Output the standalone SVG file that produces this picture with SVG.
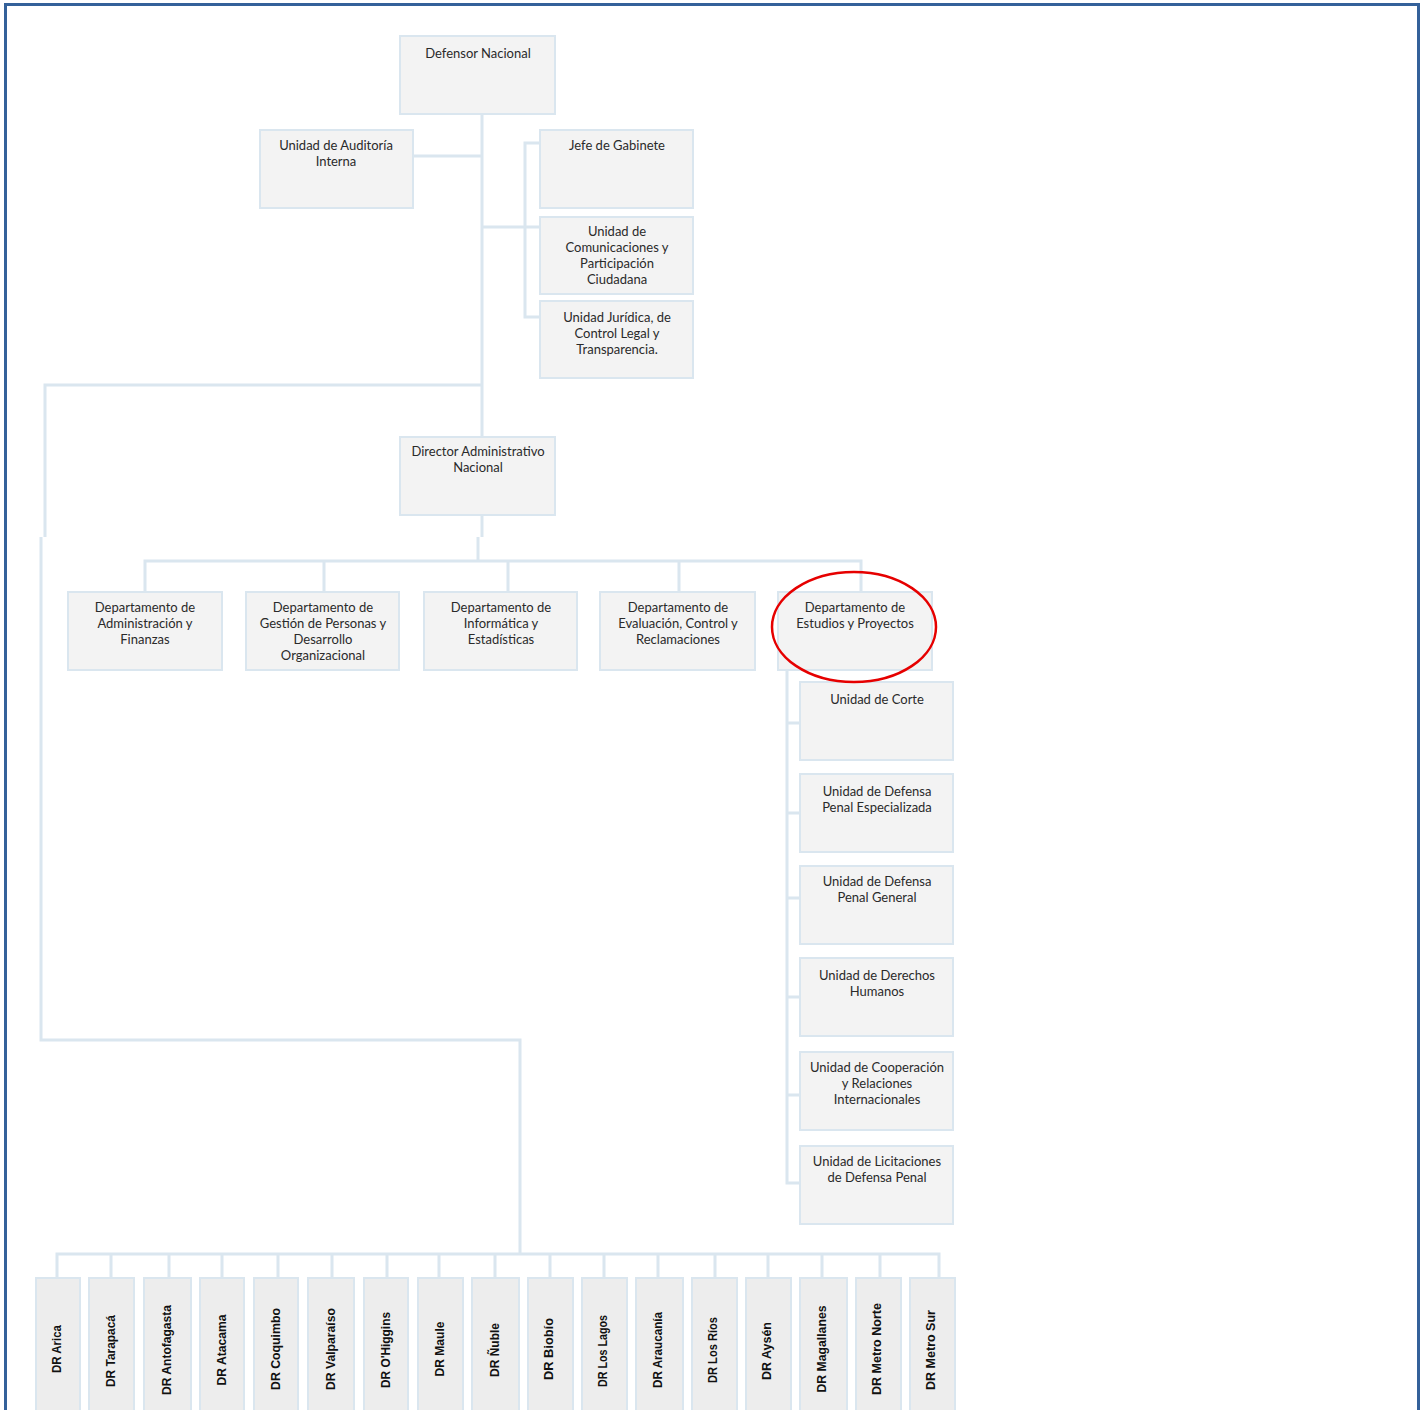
<svg xmlns="http://www.w3.org/2000/svg" width="1420" height="1410" viewBox="0 0 1420 1410">
<style>
.n{fill:#F3F3F3;stroke:#DAE6EF;stroke-width:2}
.d{fill:#EDEDED;stroke:#DAE6EF;stroke-width:2}
.c{fill:none;stroke:#DAE6EF;stroke-width:3}
.t{font-family:Lato,"Liberation Sans",sans-serif;font-size:13px;fill:#2a2a2a;text-anchor:middle;letter-spacing:0px}
.v{font-family:"Liberation Sans",Arial,sans-serif;font-size:13px;font-weight:bold;fill:#111;text-anchor:middle}
</style>
<rect x="0" y="0" width="1420" height="1410" fill="#fff"/>
<path d="M5.5,1412 V4.5 H1418.5 V1412" fill="none" stroke="#34619A" stroke-width="3"/>
<g id="connectors">
<path class="c" d="M482,114 V437"/>
<path class="c" d="M413,156 H482"/>
<path class="c" d="M482,227 H540"/>
<path class="c" d="M540,143 H525 V317 H540"/>
<path class="c" d="M482,385 H45 V537"/>
<path class="c" d="M41,537 V1040 H520 V1254"/>
<path class="c" d="M482,515 V537"/>
<path class="c" d="M478,537 V561"/>
<path class="c" d="M145,592 V561 H861 V592"/>
<path class="c" d="M324,561 V592 M508,561 V592 M679,561 V592"/>
<path class="c" d="M787,670 V1183 H800"/>
<path class="c" d="M787,723 H800 M787,813 H800 M787,898 H800 M787,997 H800 M787,1095 H800"/>
<path class="c" d="M57,1278 V1254 H939 V1278"/>
<path class="c" d="M111,1254 V1278 M169,1254 V1278 M222,1254 V1278 M278,1254 V1278 M332,1254 V1278 M387,1254 V1278 M439,1254 V1278 M495,1254 V1278 M550,1254 V1278 M604,1254 V1278 M658,1254 V1278 M715,1254 V1278 M768,1254 V1278 M822,1254 V1278 M880,1254 V1278"/>
</g>
<g id="defensor"><rect class="n" x="400" y="36" width="155" height="78"/><text class="t" x="478" y="58">Defensor Nacional</text></g>
<g id="auditoria"><rect class="n" x="260" y="130" width="153" height="78"/><text class="t" x="336" y="150">Unidad de Auditoría</text><text class="t" x="336" y="166">Interna</text></g>
<g id="gabinete"><rect class="n" x="540" y="130" width="153" height="78"/><text class="t" x="617" y="150">Jefe de Gabinete</text></g>
<g id="comunicaciones"><rect class="n" x="540" y="217" width="153" height="77"/><text class="t" x="617" y="236">Unidad de</text><text class="t" x="617" y="252">Comunicaciones y</text><text class="t" x="617" y="268">Participación</text><text class="t" x="617" y="284">Ciudadana</text></g>
<g id="juridica"><rect class="n" x="540" y="301" width="153" height="77"/><text class="t" x="617" y="322">Unidad Jurídica, de</text><text class="t" x="617" y="338">Control Legal y</text><text class="t" x="617" y="354">Transparencia.</text></g>
<g id="director"><rect class="n" x="400" y="437" width="155" height="78"/><text class="t" x="478" y="456">Director Administrativo</text><text class="t" x="478" y="472">Nacional</text></g>
<g id="dep-admin"><rect class="n" x="68" y="592" width="154" height="78"/><text class="t" x="145" y="612">Departamento de</text><text class="t" x="145" y="628">Administración y</text><text class="t" x="145" y="644">Finanzas</text></g>
<g id="dep-personas"><rect class="n" x="246" y="592" width="153" height="78"/><text class="t" x="323" y="612">Departamento de</text><text class="t" x="323" y="628">Gestión de Personas y</text><text class="t" x="323" y="644">Desarrollo</text><text class="t" x="323" y="660">Organizacional</text></g>
<g id="dep-informatica"><rect class="n" x="424" y="592" width="153" height="78"/><text class="t" x="501" y="612">Departamento de</text><text class="t" x="501" y="628">Informática y</text><text class="t" x="501" y="644">Estadísticas</text></g>
<g id="dep-evaluacion"><rect class="n" x="600" y="592" width="155" height="78"/><text class="t" x="678" y="612">Departamento de</text><text class="t" x="678" y="628">Evaluación, Control y</text><text class="t" x="678" y="644">Reclamaciones</text></g>
<g id="dep-estudios"><rect class="n" x="778" y="592" width="154" height="78"/><text class="t" x="855" y="612">Departamento de</text><text class="t" x="855" y="628">Estudios y Proyectos</text></g>
<g id="u-corte"><rect class="n" x="800" y="682" width="153" height="78"/><text class="t" x="877" y="704">Unidad de Corte</text></g>
<g id="u-especializada"><rect class="n" x="800" y="774" width="153" height="78"/><text class="t" x="877" y="796">Unidad de Defensa</text><text class="t" x="877" y="812">Penal Especializada</text></g>
<g id="u-general"><rect class="n" x="800" y="866" width="153" height="78"/><text class="t" x="877" y="886">Unidad de Defensa</text><text class="t" x="877" y="902">Penal General</text></g>
<g id="u-ddhh"><rect class="n" x="800" y="958" width="153" height="78"/><text class="t" x="877" y="980">Unidad de Derechos</text><text class="t" x="877" y="996">Humanos</text></g>
<g id="u-cooperacion"><rect class="n" x="800" y="1052" width="153" height="78"/><text class="t" x="877" y="1072">Unidad de Cooperación</text><text class="t" x="877" y="1088">y Relaciones</text><text class="t" x="877" y="1104">Internacionales</text></g>
<g id="u-licitaciones"><rect class="n" x="800" y="1146" width="153" height="78"/><text class="t" x="877" y="1166">Unidad de Licitaciones</text><text class="t" x="877" y="1182">de Defensa Penal</text></g>
<ellipse cx="854" cy="627" rx="82" ry="55" fill="none" stroke="#E60000" stroke-width="2.5"/>
<g id="dr-arica"><rect class="d" x="36" y="1278" width="44" height="140"/><text class="v" transform="translate(61,1349) rotate(-90)" textLength="48" lengthAdjust="spacingAndGlyphs">DR Arica</text></g>
<g id="dr-tarapaca"><rect class="d" x="89" y="1278" width="45" height="140"/><text class="v" transform="translate(115,1351) rotate(-90)" textLength="72" lengthAdjust="spacingAndGlyphs">DR Tarapacá</text></g>
<g id="dr-antofagasta"><rect class="d" x="144" y="1278" width="47" height="140"/><text class="v" transform="translate(171,1350) rotate(-90)" textLength="90" lengthAdjust="spacingAndGlyphs">DR Antofagasta</text></g>
<g id="dr-atacama"><rect class="d" x="200" y="1278" width="44" height="140"/><text class="v" transform="translate(226,1350) rotate(-90)" textLength="71" lengthAdjust="spacingAndGlyphs">DR Atacama</text></g>
<g id="dr-coquimbo"><rect class="d" x="254" y="1278" width="44" height="140"/><text class="v" transform="translate(280,1349) rotate(-90)" textLength="82" lengthAdjust="spacingAndGlyphs">DR Coquimbo</text></g>
<g id="dr-valparaiso"><rect class="d" x="308" y="1278" width="46" height="140"/><text class="v" transform="translate(335,1349) rotate(-90)" textLength="82" lengthAdjust="spacingAndGlyphs">DR Valparaíso</text></g>
<g id="dr-ohiggins"><rect class="d" x="364" y="1278" width="44" height="140"/><text class="v" transform="translate(390,1350) rotate(-90)" textLength="76" lengthAdjust="spacingAndGlyphs">DR O'Higgins</text></g>
<g id="dr-maule"><rect class="d" x="418" y="1278" width="45" height="140"/><text class="v" transform="translate(444,1349) rotate(-90)" textLength="55" lengthAdjust="spacingAndGlyphs">DR Maule</text></g>
<g id="dr-nuble"><rect class="d" x="472" y="1278" width="47" height="140"/><text class="v" transform="translate(499,1350) rotate(-90)" textLength="54" lengthAdjust="spacingAndGlyphs">DR Ñuble</text></g>
<g id="dr-biobio"><rect class="d" x="528" y="1278" width="45" height="140"/><text class="v" transform="translate(553,1349) rotate(-90)" textLength="62" lengthAdjust="spacingAndGlyphs">DR Biobío</text></g>
<g id="dr-loslagos"><rect class="d" x="582" y="1278" width="45" height="140"/><text class="v" transform="translate(607,1351) rotate(-90)" textLength="72" lengthAdjust="spacingAndGlyphs">DR Los Lagos</text></g>
<g id="dr-araucania"><rect class="d" x="636" y="1278" width="47" height="140"/><text class="v" transform="translate(662,1350) rotate(-90)" textLength="76" lengthAdjust="spacingAndGlyphs">DR Araucanía</text></g>
<g id="dr-losrios"><rect class="d" x="692" y="1278" width="45" height="140"/><text class="v" transform="translate(717,1350) rotate(-90)" textLength="66" lengthAdjust="spacingAndGlyphs">DR Los Ríos</text></g>
<g id="dr-aysen"><rect class="d" x="746" y="1278" width="45" height="140"/><text class="v" transform="translate(771,1351) rotate(-90)" textLength="58" lengthAdjust="spacingAndGlyphs">DR Aysén</text></g>
<g id="dr-magallanes"><rect class="d" x="800" y="1278" width="47" height="140"/><text class="v" transform="translate(826,1349) rotate(-90)" textLength="87" lengthAdjust="spacingAndGlyphs">DR Magallanes</text></g>
<g id="dr-metronorte"><rect class="d" x="856" y="1278" width="45" height="140"/><text class="v" transform="translate(881,1349) rotate(-90)" textLength="92" lengthAdjust="spacingAndGlyphs">DR Metro Norte</text></g>
<g id="dr-metrosur"><rect class="d" x="910" y="1278" width="45" height="140"/><text class="v" transform="translate(935,1350) rotate(-90)" textLength="80" lengthAdjust="spacingAndGlyphs">DR Metro Sur</text></g>
</svg>
